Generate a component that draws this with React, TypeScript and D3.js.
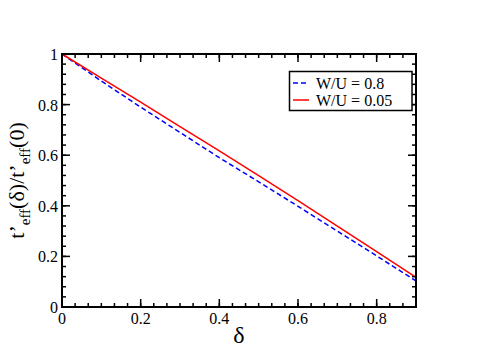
import React from "react";
import * as d3 from "d3";

const deltas = [0, 0.1, 0.2, 0.3, 0.4, 0.5, 0.6, 0.7, 0.8, 0.9];
const seriesWU08 = [1, 0.893, 0.79, 0.69, 0.59, 0.495, 0.398, 0.3, 0.202, 0.103];
const seriesWU005 = [1, 0.905, 0.81, 0.713, 0.617, 0.519, 0.42, 0.32, 0.219, 0.117];
const legendLabels = ["W/U = 0.8", "W/U = 0.05"];
const xTickLabels = [0, 0.2, 0.4, 0.6, 0.8];
const yTickLabels = [0, 0.2, 0.4, 0.6, 0.8, 1];

const W = 498, H = 352;
const L = 62, R = 416, T = 54, B = 307;
const FONT = "'Liberation Serif', 'Times New Roman', Times, 'DejaVu Serif', serif";
const ts = { fontFamily: FONT };

export default function App() {
  const x = d3.scaleLinear().domain([0, 0.9]).range([L, R]);
  const y = d3.scaleLinear().domain([0, 1]).range([B, T]);
  const line = d3.line<number>().x((_, i) => x(deltas[i])).y((d) => y(d));

  const xMinor = d3.range(0, 0.9 + 1e-9, 0.2 / 6);
  const yMinor = d3.range(0, 1 + 1e-9, 0.04);
  const fmt = (v: number) => (v === 0 ? "0" : v === 1 ? "1" : d3.format(".1f")(v));

  return (
    <svg width={W} height={H} style={{ position: "absolute", left: 0, top: 0, background: "#fff", fontFamily: FONT }}>
      <rect x={0} y={0} width={W} height={H} fill="#fff" />
      <path d={line(seriesWU08) || ""} fill="none" stroke="#0000ff" strokeWidth={1.5} strokeDasharray="5,3" />
      <path d={line(seriesWU005) || ""} fill="none" stroke="#ff0000" strokeWidth={1.5} />
      <g stroke="#000" strokeWidth={1.5}>
        {xMinor.map((v, i) => (
          <g key={"xm" + i}>
            <line x1={x(v)} x2={x(v)} y1={B} y2={B - 4} />
            <line x1={x(v)} x2={x(v)} y1={T} y2={T + 4} />
          </g>
        ))}
        {xTickLabels.map((v, i) => (
          <g key={"xM" + i}>
            <line x1={x(v)} x2={x(v)} y1={B} y2={B - 8} />
            <line x1={x(v)} x2={x(v)} y1={T} y2={T + 8} />
          </g>
        ))}
        {yMinor.map((v, i) => (
          <g key={"ym" + i}>
            <line x1={L} x2={L + 4} y1={y(v)} y2={y(v)} />
            <line x1={R} x2={R - 4} y1={y(v)} y2={y(v)} />
          </g>
        ))}
        {yTickLabels.map((v, i) => (
          <g key={"yM" + i}>
            <line x1={L} x2={L + 8} y1={y(v)} y2={y(v)} />
            <line x1={R} x2={R - 8} y1={y(v)} y2={y(v)} />
          </g>
        ))}
      </g>
      <rect x={L} y={T} width={R - L} height={B - T} fill="none" stroke="#000" strokeWidth={2} />
      {xTickLabels.map((v, i) => (
        <text key={"xl" + i} x={x(v)} y={B + 17} fontSize={16} textAnchor="middle" fill="#000" style={ts}>
          {fmt(v)}
        </text>
      ))}
      {yTickLabels.map((v, i) => (
        <text key={"yl" + i} x={L - 4} y={y(v) + 6} fontSize={16} textAnchor="end" fill="#000" style={ts}>
          {fmt(v)}
        </text>
      ))}
      <text x={(L + R) / 2} y={343} fontSize={24} textAnchor="middle" fill="#000" style={ts}>δ</text>
      <text transform={`translate(24, ${(T + B) / 2}) rotate(-90)`} fontSize={22} textAnchor="middle" fill="#000" style={ts}>
        <tspan>t’</tspan>
        <tspan fontSize={15} dy={6}>eff</tspan>
        <tspan dy={-6}>(δ)/t’</tspan>
        <tspan fontSize={15} dy={6}>eff</tspan>
        <tspan dy={-6}>(0)</tspan>
      </text>
      <rect x={289.5} y={71.5} width={122.5} height={39} fill="#fff" stroke="#000" strokeWidth={1.5} />
      <line x1={293} x2={309} y1={83} y2={83} stroke="#0000ff" strokeWidth={1.5} strokeDasharray="5,3" />
      <line x1={293} x2={309} y1={100} y2={100} stroke="#ff0000" strokeWidth={1.5} />
      <text x={316} y={89} fontSize={16} fill="#000" style={ts}>{legendLabels[0]}</text>
      <text x={316} y={106} fontSize={16} fill="#000" style={ts}>{legendLabels[1]}</text>
    </svg>
  );
}
